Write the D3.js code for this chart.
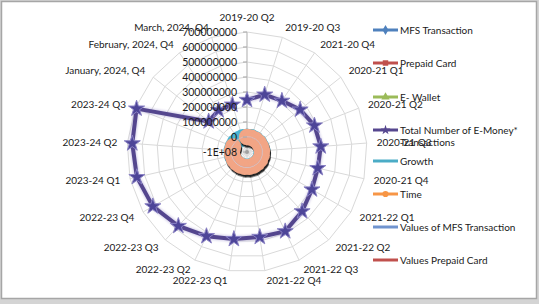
<!DOCTYPE html>
<html>
<head>
<meta charset="utf-8">
<script src="https://cdn.jsdelivr.net/npm/d3@7"></script>
<style>
body{margin:0;background:#fff;}
text{font-family:Lato, "Open Sans", sans-serif;fill:#1a1a1a;}
</style>
</head>
<body>
<div class="radarChart"></div>
<script>
const categories = ["2019-20 Q2","2019-20 Q3","2021-20 Q4","2020-21 Q1","2020-21 Q2","2020-21 Q3","2020-21 Q4",
  "2021-22 Q1","2021-22 Q2","2021-22 Q3","2021-22 Q4","2022-23 Q1","2022-23 Q2","2022-23 Q3","2022-23 Q4",
  "2023-24 Q1","2023-24 Q2","2023-24 Q3","January, 2024, Q4","February, 2024, Q4","March, 2024, Q4"]
const tickValues = [-1e8,0,1e8,2e8,3e8,4e8,5e8,6e8,7e8]
const tickLabels = ["-1E+08","0","100000000","200000000","300000000","400000000","500000000","600000000","700000000"]

// series (small series sit near the 0 ring)
const totalEMoney = [2.47e8,3.0e8,3.13e8,3.53e8,3.83e8,3.93e8,3.84e8,4.0e8,4.4e8,4.87e8,4.73e8,
  4.87e8,5.23e8,5.73e8,6.25e8,6.53e8,6.67e8,6.91e8,2.27e8,2.37e8,2.3e8]
const mfsTransaction = [1.1e7,1.2e7,1.2e7,1.3e7,1.4e7,1.4e7,1.5e7,1.5e7,1.6e7,1.7e7,1.7e7,
  1.8e7,1.8e7,1.9e7,2.0e7,2.0e7,2.1e7,2.1e7,7e6,7e6,7e6]
const prepaidCard = [1e6,1e6,1e6,1e6,1e6,1e6,1e6,1e6,1e6,1e6,1e6,1e6,1e6,1e6,1e6,1e6,1e6,1e6,5e5,5e5,5e5]
const eWallet = [2e6,2e6,3e6,3e6,3e6,4e6,4e6,4e6,5e6,5e6,5e6,6e6,6e6,6e6,7e6,7e6,7e6,8e6,3e6,3e6,3e6]
const growth = [0.05,0.08,0.04,0.06,0.05,0.03,0.02,0.04,0.06,0.05,0.03,0.02,0.04,0.06,0.05,0.03,0.02,0.04,0.01,0.02,0.01]
const time = [1,2,3,4,5,6,7,8,9,10,11,12,13,14,15,16,17,18,null,null,null]
const valuesMfs = [2e6,2e6,2e6,2e6,2e6,3e6,3e6,3e6,3e6,3e6,4e6,4e6,4e6,4e6,4e6,5e6,5e6,5e6,2e6,2e6,2e6]
const valuesPrepaid = [1e5,1e5,1e5,1e5,1e5,1e5,1e5,1e5,1e5,1e5,1e5,1e5,1e5,1e5,1e5,1e5,1e5,1e5,5e4,5e4,5e4]

const legendNames = ["MFS Transaction","Prepaid Card","E- Wallet","Total Number of E-Money*","Growth","Time","Values of MFS Transaction","Values Prepaid Card"]

let svg = d3.select(".radarChart")
            .append("svg")
            .attr("width",539)
            .attr("height",304)

// frame
svg.append("rect").attr("x",0).attr("y",0).attr("width",539).attr("height",304).attr("fill","#d4d4d4")
svg.append("rect").attr("x",1.5).attr("y",1.5).attr("width",535).attr("height",297)
   .attr("fill","#fff").attr("stroke","#a6a6a6").attr("stroke-width",1.5)

let defs = svg.append("defs")
defs.append("filter").attr("id","shadow").attr("x","-50%").attr("y","-50%").attr("width","200%").attr("height","200%")
    .append("feDropShadow").attr("dx",1).attr("dy",2.5).attr("stdDeviation",0.6).attr("flood-color","#111").attr("flood-opacity",0.9)
defs.append("filter").attr("id","glow").attr("x","-50%").attr("y","-50%").attr("width","200%").attr("height","200%")
    .append("feGaussianBlur").attr("stdDeviation",0.8)

const cx = 247, cy = 152, R = 120
let r_scale = d3.scaleLinear().domain([-1e8,7e8]).range([0,R])
let a_scale = d3.scaleLinear().domain([0,categories.length]).range([0,2*Math.PI])

let g = svg.append("g").attr("transform","translate("+cx+","+cy+")")

function pt(i,v){
    let a = a_scale(i), r = r_scale(v)
    return [r*Math.sin(a), -r*Math.cos(a)]
}

// rings
tickValues.forEach(t=>{
    if (t == tickValues[0]) return
    let ring = d3.range(categories.length).map(i=>pt(i,t))
    g.append("path")
     .attr("d","M"+ring.join("L")+"Z")
     .attr("fill","none")
     .attr("stroke","#d9d9d9")
     .attr("stroke-width",1)
})
// spokes
categories.forEach((c,i)=>{
    let p = pt(i,7e8)
    g.append("line").attr("x1",0).attr("y1",0).attr("x2",p[0]).attr("y2",p[1])
     .attr("stroke","#d9d9d9").attr("stroke-width",1)
})
// value axis line
g.append("line").attr("x1",0).attr("y1",0).attr("x2",0).attr("y2",-R).attr("stroke","#bfbfbf")

// category labels
categories.forEach((c,i)=>{
    let a = a_scale(i), s = Math.sin(a), co = Math.cos(a)
    let rr = R + 10
    let x = rr*s, y = -rr*co
    let anchor = Math.abs(s) < 0.1 ? "middle" : (s > 0 ? "start" : "end")
    if (Math.abs(s) < 0.1) y += co > 0 ? -5 : 3
    g.append("text")
     .attr("x",x).attr("y",y)
     .attr("dy","0.35em")
     .attr("text-anchor",anchor)
     .attr("font-size",10)
     .text(c)
})

let line = d3.lineRadial()
             .angle((d,i)=>a_scale(i))
             .radius(d=>r_scale(d))
             .defined(d=>d != null)

function drawSeries(vals,color,width,marker,closed){
    let sg = g.append("g")
    let data = closed ? vals.concat([vals[0]]) : vals
    sg.append("path")
      .datum(data)
      .attr("d",line)
      .attr("fill","none")
      .attr("stroke",color)
      .attr("stroke-width",width)
      .attr("stroke-linejoin","round")
    if (marker){
        sg.selectAll("path.mk")
          .data(vals.map((v,i)=>[i,v]).filter(d=>d[1]!=null))
          .enter().append("path")
          .attr("class","mk")
          .attr("d",d3.symbol().type(marker.type).size(marker.size))
          .attr("transform",d=>"translate("+pt(d[0],d[1])+")")
          .attr("fill",marker.fill)
          .attr("stroke",marker.stroke || "none")
          .attr("stroke-width",1)
    }
    return sg
}

drawSeries(mfsTransaction,"#4f81bd",3,{type:d3.symbolDiamond,size:40,fill:"#4f81bd"},true)
drawSeries(prepaidCard,"#c0504d",3,{type:d3.symbolSquare,size:35,fill:"#c0504d"},true)
drawSeries(eWallet,"#9bbb59",3,{type:d3.symbolTriangle,size:35,fill:"#9bbb59"},true)

// main series with halo
g.append("path").datum(totalEMoney).attr("d",line).attr("fill","none")
 .attr("stroke","#9a8fcc").attr("stroke-width",6).attr("opacity",0.4).attr("filter","url(#glow)")
drawSeries(totalEMoney,"#54468e",4,{type:d3.symbolStar,size:80,fill:"#4d4598",stroke:"#8a82c4"},false)

drawSeries(growth,"#4bacc6",9,{type:d3.symbolCircle,size:230,fill:"#4bb4d0"},false)
drawSeries(time,"#f79646",7,{type:d3.symbolCircle,size:210,fill:"#f2a585"},false).attr("filter","url(#shadow)")
drawSeries(valuesMfs,"#c9d9ee",1,null,true).attr("opacity",0.7)
drawSeries(valuesPrepaid,"#e0a090",1,null,true).attr("opacity",0.6)
g.append("circle").attr("r",2).attr("fill","#a0a0a0")

// value axis ticks and labels drawn over the series
tickValues.forEach((t,i)=>{
    g.append("line").attr("x1",-4).attr("x2",0).attr("y1",-r_scale(t)).attr("y2",-r_scale(t)).attr("stroke","#a6a6a6")
    g.append("text")
     .attr("x",-10).attr("y",-r_scale(t))
     .attr("dy","0.35em")
     .attr("text-anchor","end")
     .attr("font-size",10.5)
     .text(tickLabels[i])
})

// legend
const legendColors = ["#4f81bd","#c0504d","#9bbb59","#56478f","#4bacc6","#f79646","#7094cf","#c0504d"]
const legendMarkers = [d3.symbolDiamond,d3.symbolSquare,d3.symbolTriangle,d3.symbolStar,null,d3.symbolCircle,null,null]
const legendY = [30,63,97,130,161,194,227,260]
let leg = svg.append("g")
legendNames.forEach((n,i)=>{
    leg.append("line").attr("x1",373).attr("x2",398).attr("y1",legendY[i]).attr("y2",legendY[i])
       .attr("stroke",legendColors[i]).attr("stroke-width",3)
    if (legendMarkers[i]){
        leg.append("path").attr("d",d3.symbol().type(legendMarkers[i]).size(30))
           .attr("transform","translate(385.5,"+legendY[i]+")").attr("fill",legendColors[i])
    }
    leg.append("text").attr("x",400).attr("y",legendY[i]).attr("dy","0.35em")
       .attr("font-size",10).text(n)
})
leg.append("text").attr("x",400).attr("y",142).attr("dy","0.35em").attr("font-size",10).text("Transactions")
</script>
</body>
</html>
